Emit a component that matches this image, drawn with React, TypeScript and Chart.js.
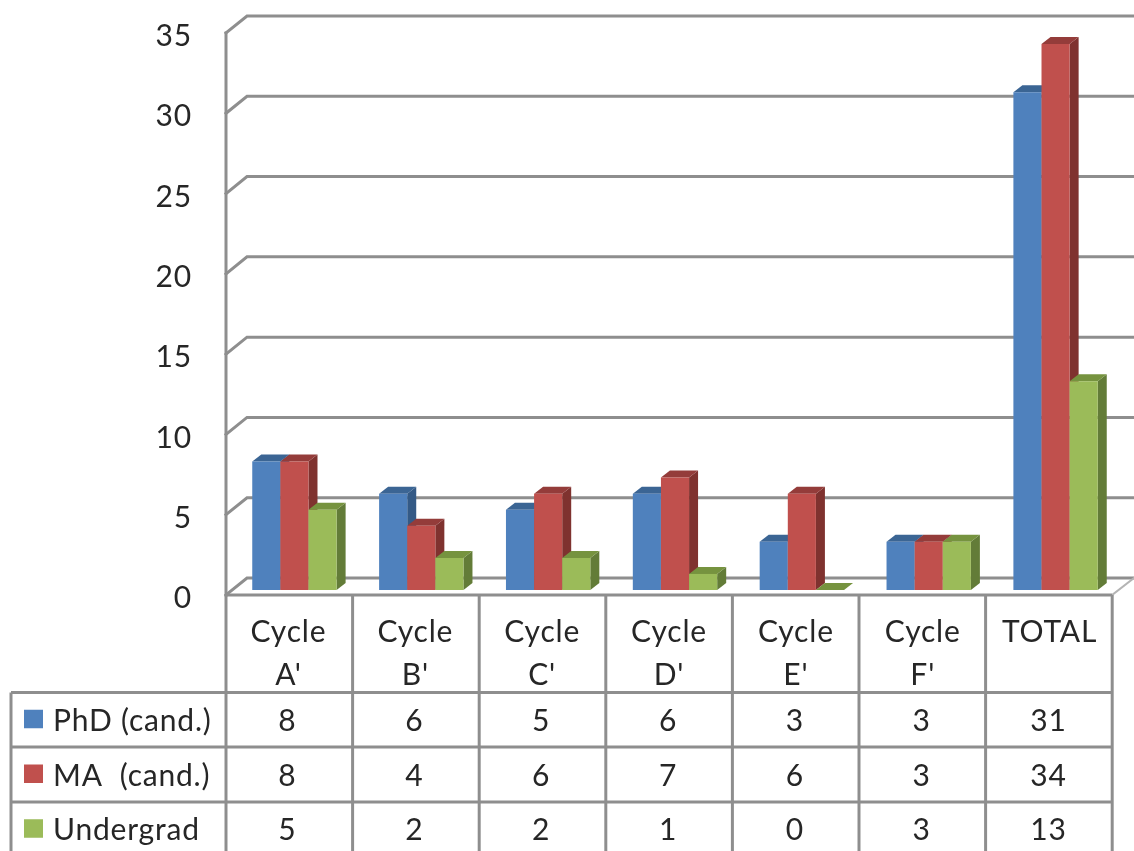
import React, { useEffect, useRef } from "react";
import { Chart, registerables } from "chart.js";

Chart.register(...registerables);

const categories = [["Cycle", "A'"], ["Cycle", "B'"], ["Cycle", "C'"], ["Cycle", "D'"], ["Cycle", "E'"], ["Cycle", "F'"], ["TOTAL"]];
const seriesNames = ["PhD (cand.)", "MA  (cand.)", "Undergrad"];
const phd = [8, 6, 5, 6, 3, 3, 31];
const ma = [8, 4, 6, 7, 6, 3, 34];
const undergrad = [5, 2, 2, 1, 0, 3, 13];
const frontColors = ["#4F81BD", "#C0504D", "#9BBB59"];
const topColors = ["#3B6594", "#943C3A", "#76933F"];
const sideColors = ["#345A86", "#7F322F", "#637C38"];

const FONT = "Lato";
const FONT_SIZE = 30;
const TEXT = "#262626";
const LINE = "#8E8E8E";
const DX = 9, DY = 7;            // bar depth
const wallLeft = 226, tableRight = 1112, colW = 126.6;
const rowY = [692.5, 747, 802, 856.5];
const tableLeft = 11;

const plugin3d = {
  id: "plugin3d",
  beforeDraw(chart: any) {
    chart.ctx.letterSpacing = "0.8px";
  },
  beforeDatasetsDraw(chart: any) {
    const { ctx, scales: { y } } = chart;
    ctx.save();
    ctx.strokeStyle = LINE;
    ctx.lineWidth = 3;
    ctx.lineCap = "square";
    const ticks = y.ticks.map((t: any) => t.value);
    for (const v of ticks) {
      const fy = y.getPixelForValue(v) + 5;
      const by = fy - 17;
      ctx.beginPath();
      ctx.moveTo(wallLeft, fy);
      ctx.lineTo(wallLeft + 21, by);
      ctx.lineTo(chart.width + 3, by);
      ctx.stroke();
    }
    ctx.beginPath();
    ctx.moveTo(wallLeft, y.getPixelForValue(35) + 5);
    ctx.lineTo(wallLeft, y.getPixelForValue(0) + 5);
    ctx.stroke();
    const fy0 = y.getPixelForValue(0) + 5;
    ctx.strokeStyle = "#B4B4B4";
    ctx.lineWidth = 2;
    ctx.beginPath();
    ctx.moveTo(tableRight, fy0);
    ctx.lineTo(chart.width, fy0 - 17);
    ctx.stroke();
    ctx.restore();

    // paint the series left to right, each with its depth faces behind its front
    [0, 1, 2].forEach((i) => {
      const meta = chart.getDatasetMeta(i);
      ctx.save();
      for (const bar of meta.data) {
        const l = bar.x - bar.width / 2, r = bar.x + bar.width / 2;
        const t = bar.y, b = bar.base;
        ctx.fillStyle = sideColors[i];
        ctx.beginPath();
        ctx.moveTo(r, t); ctx.lineTo(r + DX, t - DY); ctx.lineTo(r + DX, b - DY); ctx.lineTo(r, b);
        ctx.closePath(); ctx.fill();
        ctx.fillStyle = topColors[i];
        ctx.beginPath();
        ctx.moveTo(l, t); ctx.lineTo(l + DX, t - DY); ctx.lineTo(r + DX, t - DY); ctx.lineTo(r, t);
        ctx.closePath(); ctx.fill();
      }
      ctx.restore();
      meta.controller.draw();
    });
    return false;
  },
  afterDraw(chart: any) {
    const { ctx, height } = chart;
    const { x: xs, y: ys } = chart.scales;
    const bottom = ys.getPixelForValue(0) + 5;
    const rows = [phd, ma, undergrad];
    ctx.save();
    ctx.strokeStyle = LINE;
    ctx.lineWidth = 3;
    for (let c = 0; c <= categories.length; c++) {
      const x = wallLeft + c * colW;
      ctx.beginPath();
      ctx.moveTo(x, bottom);
      ctx.lineTo(x, height);
      ctx.stroke();
    }
    ctx.beginPath();
    ctx.moveTo(wallLeft, bottom);
    ctx.lineTo(tableRight, bottom);
    ctx.stroke();
    for (const ry of rowY) {
      ctx.beginPath();
      ctx.moveTo(tableLeft, ry);
      ctx.lineTo(tableRight, ry);
      ctx.stroke();
    }
    ctx.beginPath();
    ctx.moveTo(tableLeft, rowY[0]);
    ctx.lineTo(tableLeft, height);
    ctx.stroke();

    ctx.font = `${FONT_SIZE}px ${FONT}`;
    ctx.fillStyle = TEXT;
    ctx.textBaseline = "middle";
    rows.forEach((row, r) => {
      const cy = (rowY[r] + rowY[r + 1]) / 2;
      ctx.fillStyle = frontColors[r];
      ctx.fillRect(24, cy - 10, 19, 18.5);
      ctx.fillStyle = TEXT;
      ctx.textAlign = "left";
      ctx.fillText(seriesNames[r], 53, cy + 1.5);
      ctx.textAlign = "center";
      row.forEach((v, c) => {
        ctx.fillText(String(v), xs.getPixelForValue(c) - 7, cy + 1.5);
      });
    });
    ctx.restore();
  },
};

export default function App() {
  const ref = useRef<HTMLCanvasElement | null>(null);
  useEffect(() => {
    const chart = new Chart(ref.current!, {
      type: "bar",
      data: {
        labels: categories as any,
        datasets: [phd, ma, undergrad].map((data, i) => ({
          label: seriesNames[i],
          data,
          backgroundColor: frontColors[i],
          borderWidth: 0,
          categoryPercentage: 0.665,
          barPercentage: 1,
        })),
      },
      options: {
        responsive: false,
        animation: false,
        layout: { padding: { left: 0, right: 15, top: 28, bottom: 0 } },
        plugins: { legend: { display: false }, tooltip: { enabled: false }, title: { display: false } },
        scales: {
          x: {
            grid: { display: false, drawTicks: false },
            border: { display: false },
            afterFit: (s: any) => { s.height = 261; },
            ticks: {
              font: { family: FONT, size: FONT_SIZE, lineHeight: 1.43 },
              color: TEXT,
              maxRotation: 0,
              autoSkip: false,
              padding: 21,
              labelOffset: -6,
            },
          },
          y: {
            min: 0,
            max: 35,
            grid: { display: false, drawTicks: false },
            border: { display: false },
            afterFit: (s: any) => { s.width = 231; s.paddingTop = 0; s.paddingBottom = 0; },
            ticks: {
              stepSize: 5,
              font: { family: FONT, size: FONT_SIZE },
              color: TEXT,
              padding: 39,
              labelOffset: 8.5,
            },
          },
        },
      },
      plugins: [plugin3d],
    } as any);
    return () => chart.destroy();
  }, []);
  return (
    <div style={{ position: "absolute", left: 0, top: 0, width: 1134, height: 851, overflow: "hidden", background: "#fff" }}>
      <canvas ref={ref} width={1134} height={851} style={{ display: "block", filter: "blur(0.6px)" }} />
    </div>
  );
}
